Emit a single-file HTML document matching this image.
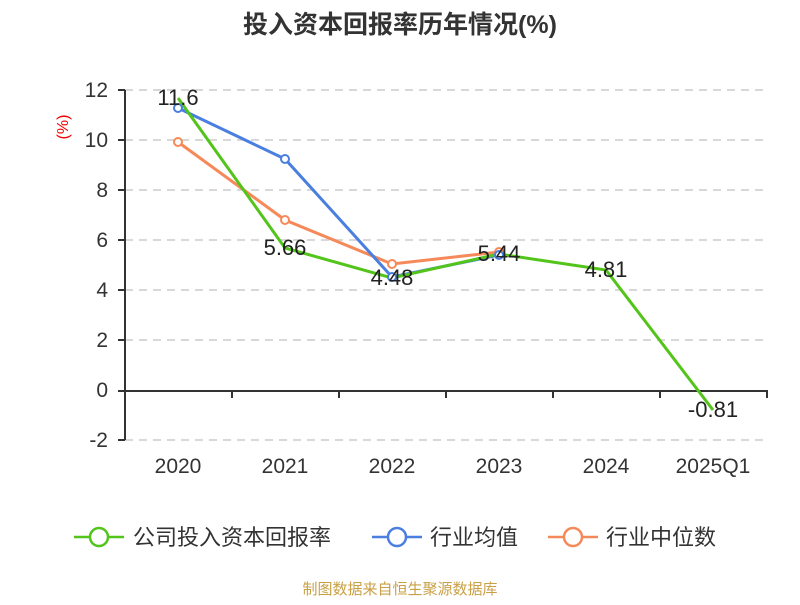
<!DOCTYPE html>
<html><head><meta charset="utf-8"><style>
body{margin:0;background:#fff;}
svg text{font-family:"Liberation Sans","Noto Sans CJK SC",sans-serif;}
</style></head><body>
<svg width="800" height="600" xmlns="http://www.w3.org/2000/svg">
<rect width="800" height="600" fill="#fff"/>
<text x="400" y="33" text-anchor="middle" font-size="25" font-weight="bold" fill="#333">投入资本回报率历年情况(%)</text>
<text transform="translate(68,127) rotate(-90)" text-anchor="middle" font-size="16" fill="#e00">(%)</text>
<g stroke="#ccc" stroke-width="1.5" stroke-dasharray="8,6">
<line x1="125" y1="90" x2="768" y2="90"/><line x1="125" y1="140" x2="768" y2="140"/>
<line x1="125" y1="190" x2="768" y2="190"/><line x1="125" y1="240" x2="768" y2="240"/>
<line x1="125" y1="290" x2="768" y2="290"/><line x1="125" y1="340" x2="768" y2="340"/>
<line x1="125" y1="440" x2="768" y2="440"/>
</g>
<g stroke="#333" stroke-width="2">
<line x1="125" y1="90" x2="125" y2="440"/>
<line x1="125" y1="391" x2="768" y2="391"/>
<line x1="118" y1="90" x2="125" y2="90"/><line x1="118" y1="140" x2="125" y2="140"/>
<line x1="118" y1="190" x2="125" y2="190"/><line x1="118" y1="240" x2="125" y2="240"/>
<line x1="118" y1="290" x2="125" y2="290"/><line x1="118" y1="340" x2="125" y2="340"/>
<line x1="118" y1="391" x2="125" y2="391"/><line x1="118" y1="440" x2="125" y2="440"/>
<line x1="232" y1="391" x2="232" y2="398"/><line x1="339" y1="391" x2="339" y2="398"/>
<line x1="446" y1="391" x2="446" y2="398"/><line x1="553" y1="391" x2="553" y2="398"/>
<line x1="660" y1="391" x2="660" y2="398"/><line x1="767" y1="391" x2="767" y2="398"/>
</g>
<g font-size="21" fill="#333" text-anchor="end">
<text x="108" y="97">12</text><text x="108" y="147">10</text><text x="108" y="197">8</text>
<text x="108" y="247">6</text><text x="108" y="297">4</text><text x="108" y="347">2</text>
<text x="108" y="397">0</text><text x="108" y="447">-2</text>
</g>
<g font-size="21" fill="#333" text-anchor="middle">
<text x="178" y="473">2020</text><text x="285" y="473">2021</text><text x="392" y="473">2022</text>
<text x="499" y="473">2023</text><text x="606" y="473">2024</text><text x="713" y="473">2025Q1</text>
</g>
<polyline fill="none" stroke="#f5895a" stroke-width="3" points="178,142 285,220 392,264 499,252"/>
<polyline fill="none" stroke="#4a7fe0" stroke-width="3" points="178,108 285,159 392,277 499,255"/>
<polyline fill="none" stroke="#52c41a" stroke-width="3" points="178,98 285,248 392,278 499,254 606,270 713,410"/>
<g fill="#fff" stroke-width="2">
<circle cx="178" cy="142" r="4" stroke="#f5895a"/><circle cx="285" cy="220" r="4" stroke="#f5895a"/>
<circle cx="392" cy="264" r="4" stroke="#f5895a"/><circle cx="499" cy="252" r="4" stroke="#f5895a"/>
<circle cx="178" cy="108" r="4" stroke="#4a7fe0"/><circle cx="285" cy="159" r="4" stroke="#4a7fe0"/>
<circle cx="392" cy="277" r="4" stroke="#4a7fe0"/><circle cx="499" cy="255" r="4" stroke="#4a7fe0"/>
</g>
<g font-size="22" fill="#222" text-anchor="middle">
<text x="178" y="105">11.6</text><text x="285" y="255">5.66</text><text x="392" y="285">4.48</text>
<text x="499" y="261">5.44</text><text x="606" y="277">4.81</text><text x="713" y="417">-0.81</text>
</g>
<g stroke-width="2.5" fill="#fff">
<line x1="74" y1="537" x2="124" y2="537" stroke="#52c41a"/><circle cx="99" cy="537" r="9" stroke="#52c41a"/>
<line x1="372" y1="537" x2="422" y2="537" stroke="#4a7fe0"/><circle cx="397" cy="537" r="9" stroke="#4a7fe0"/>
<line x1="548" y1="537" x2="598" y2="537" stroke="#f5895a"/><circle cx="573" cy="537" r="9" stroke="#f5895a"/>
</g>
<g font-size="22" fill="#333">
<text x="133" y="545">公司投入资本回报率</text><text x="430" y="545">行业均值</text><text x="606" y="545">行业中位数</text>
</g>
<text x="400" y="594" text-anchor="middle" font-size="15" fill="#c9a045">制图数据来自恒生聚源数据库</text>
</svg>
</body></html>
